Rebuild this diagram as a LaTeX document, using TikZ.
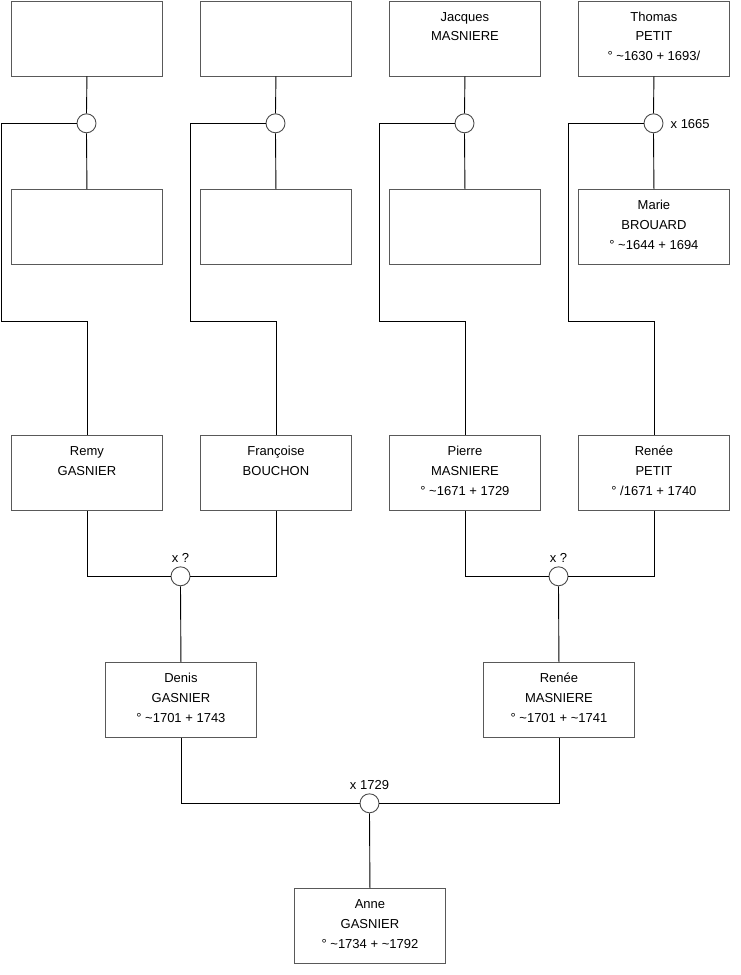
\documentclass[tikz,border=0pt]{standalone}
\usepackage{fontspec}
\setmainfont{Liberation Sans}
\newcommand\pers[6]{%
  \node[box] (#1) at (#2,#3) {};
  \if\relax\detokenize{#4}\relax\else\node[txt] (#1a) at ([yshift=-20.5pt]#1.north) {#4};\fi
  \if\relax\detokenize{#5}\relax\else\node[txt] (#1b) at ([yshift=-40pt]#1.north) {#5};\fi
  \if\relax\detokenize{#6}\relax\else\node[txt] (#1c) at ([yshift=-60pt]#1.north) {#6};\fi
}
\begin{document}
\begin{tikzpicture}[x=1pt,y=-1pt,
  box/.style={draw=black!65, line width=0.9pt, minimum width=151pt, minimum height=75pt, anchor=north west, inner sep=0pt, fill=white},
  txt/.style={font=\fontsize{13}{15}\selectfont, anchor=base, inner sep=0pt},
  ring/.style={circle, draw=black!70, line width=0.9pt, fill=white, minimum size=19pt, inner sep=0pt},
  link/.style={line width=0.9pt, draw=black}]
\useasboundingbox (0,0) rectangle (740,975);
% top row
\pers{ta}{11}{0.5}{}{}{}
\pers{tb}{200}{0.5}{}{}{}
\pers{tc}{389}{0.5}{Jacques}{MASNIERE}{}
\pers{td}{578}{0.5}{Thomas}{PETIT}{° \textasciitilde1630 + 1693/}
% second row
\pers{sa}{11}{189}{}{}{}
\pers{sb}{200}{189}{}{}{}
\pers{sc}{389}{189}{}{}{}
\pers{sd}{578}{189}{Marie}{BROUARD}{° \textasciitilde1644 + 1694}
% third row
\pers{remy}{11}{435}{Remy}{GASNIER}{}
\pers{fran}{200}{435}{Françoise}{BOUCHON}{}
\pers{pier}{389}{435}{Pierre}{MASNIERE}{° \textasciitilde1671 + 1729}
\pers{renp}{578}{435}{Renée}{PETIT}{° /1671 + 1740}
% fourth row
\pers{deni}{105}{662}{Denis}{GASNIER}{° \textasciitilde1701 + 1743}
\pers{renm}{483}{662}{Renée}{MASNIERE}{° \textasciitilde1701 + \textasciitilde1741}
% bottom
\pers{anne}{294}{888}{Anne}{GASNIER}{° \textasciitilde1734 + \textasciitilde1792}
% rings
\node[ring] (ra) at (86.5,123.3) {};
\node[ring] (rb) at (275.5,123.3) {};
\node[ring] (rc) at (464.5,123.3) {};
\node[ring] (rd) at (653.5,123.3) {};
\node[ring] (rl) at (180.5,576.3) {};
\node[ring] (rr) at (558.5,576.3) {};
\node[ring] (rz) at (369.5,803.3) {};
% ring labels
\node[txt] (lrd) at ([xshift=7pt,yshift=-5pt]rd.east) [anchor=base west] {x 1665};
\node[txt] (lrl) at ([yshift=3.5pt]rl.north) {x ?};
\node[txt] (lrr) at ([yshift=3.5pt]rr.north) {x ?};
\node[txt] (lrz) at ([yshift=3.5pt]rz.north) {x 1729};
% rails
\coordinate (ka) at (1.5,321.7);
\coordinate (kb) at (190.5,321.7);
\coordinate (kc) at (379.5,321.7);
\coordinate (kd) at (568.5,321.7);
% top couples
\foreach \t/\r/\s/\k/\c in {ta/ra/sa/ka/remy, tb/rb/sb/kb/fran, tc/rc/sc/kc/pier, td/rd/sd/kd/renp}{
  \draw[link] (\t.south) -- (\r.north);
  \draw[link] (\r.south) -- (\s.north);
  \draw[link] (\r.west) -| (\k) -| (\c.north);
}
% middle couples
\draw[link] (remy.south) |- (rl.west);
\draw[link] (fran.south) |- (rl.east);
\draw[link] (rl.south) -- (deni.north);
\draw[link] (pier.south) |- (rr.west);
\draw[link] (renp.south) |- (rr.east);
\draw[link] (rr.south) -- (renm.north);
% bottom couple
\draw[link] (deni.south) |- (rz.west);
\draw[link] (renm.south) |- (rz.east);
\draw[link] (rz.south) -- (anne.north);
\end{tikzpicture}
\end{document}
